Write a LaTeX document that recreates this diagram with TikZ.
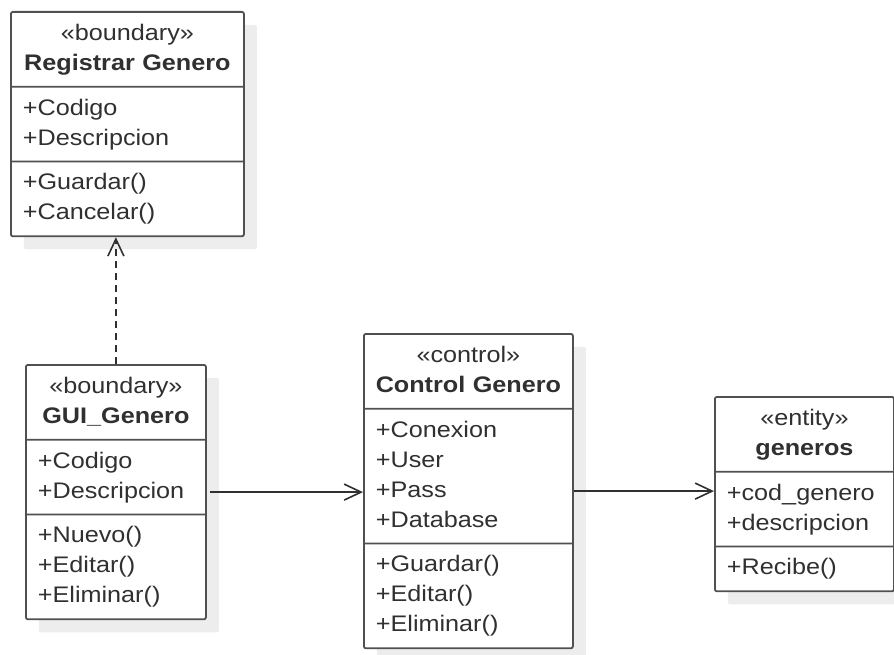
\documentclass[tikz,border=0pt]{standalone}
\usepackage{fontspec}
\setmainfont{Liberation Sans}[FakeStretch=1.12]
\usetikzlibrary{arrows.meta}
\usetikzlibrary{positioning}
\usetikzlibrary{shapes.multipart,shadows}
\definecolor{umlline}{HTML}{505050}
\definecolor{umltext}{HTML}{303030}
\newcommand{\row}[1]{\noindent\strut#1\par}
\newcommand{\head}[2]{\row{\makebox[\linewidth]{#1}}\row{\makebox[\linewidth]{\bfseries #2}}}

\begin{document}
\begin{tikzpicture}[x=1pt,y=-1pt,>={Straight Barb[length=17pt,width=16pt]},
  umlclass/.style={rectangle split,rectangle split parts=3,draw=umlline,line width=1.8pt,
    fill=white,rounded corners=2pt,inner xsep=12pt,inner ysep=6.5pt,anchor=north west,
    font=\fontsize{22.5}{30}\selectfont,text=umltext,
    general shadow={fill=black!7,draw=none,shadow xshift=13pt,shadow yshift=-13pt}},
  link/.style={->,draw=umltext,line width=1.6pt}]
\useasboundingbox (0,0) rectangle (894,655);

\node[umlclass,text width=209pt] (reg) at (10,11)
  {\head{«boundary»}{Registrar Genero}
   \nodepart{two}\row{+Codigo}\row{+Descripcion}
   \nodepart{three}\row{+Guardar()}\row{+Cancelar()}};
\node[umlclass,text width=156pt] (gui) at (25,364)
  {\head{«boundary»}{GUI\_Genero}
   \nodepart{two}\row{+Codigo}\row{+Descripcion}
   \nodepart{three}\row{+Nuevo()}\row{+Editar()}\row{+Eliminar()}};
\node[umlclass,text width=185pt] (ctrl) at (363,333)
  {\head{«control»}{Control Genero}
   \nodepart{two}\row{+Conexion}\row{+User}\row{+Pass}\row{+Database}
   \nodepart{three}\row{+Guardar()}\row{+Editar()}\row{+Eliminar()}};
\node[umlclass,text width=155pt] (gen) at (714,396)
  {\head{«entity»}{generos}
   \nodepart{two}\row{+cod\_genero}\row{+descripcion}
   \nodepart{three}\row{+Recibe()}};

\draw[link,dash pattern=on 7pt off 5pt] (gui.north) -- (gui.north |- reg.south);
\draw[link] ([xshift=3pt]gui.east) -- (gui.east -| ctrl.west);
\draw[link] (ctrl.east) -- (ctrl.east -| gen.west);
\end{tikzpicture}
\end{document}
